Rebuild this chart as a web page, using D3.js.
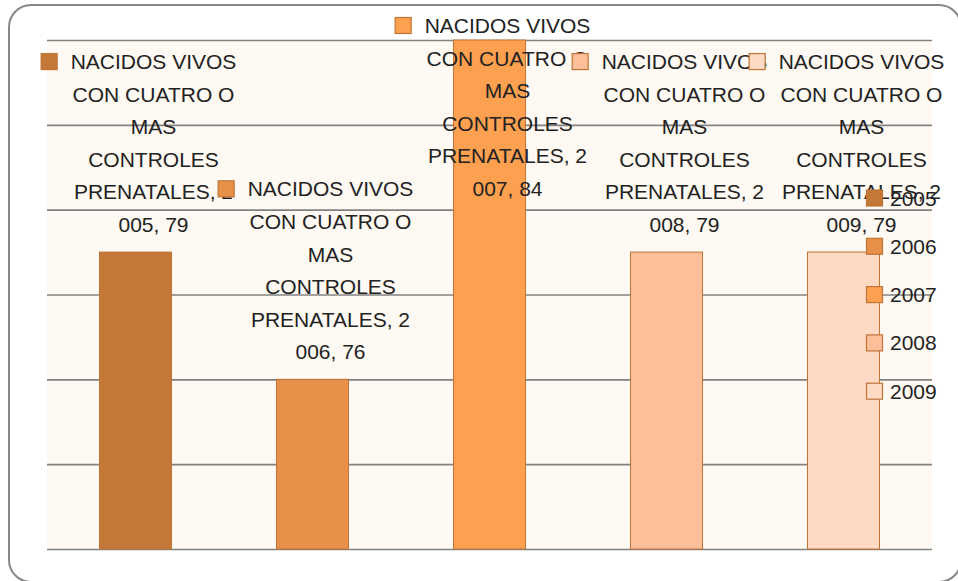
<!DOCTYPE html>
<html>
<head>
<meta charset="utf-8">
<script src="https://cdn.jsdelivr.net/npm/d3@7"></script>
<style>
  html, body { margin: 0; padding: 0; background: #fff; }
  svg text { font-family: "Liberation Sans", Arial, sans-serif; fill: #222; }
</style>
</head>
<body>
<svg id="chart" width="958" height="581"></svg>
<script>
// data
var indicator = 'NACIDOS VIVOS CON CUATRO O MAS CONTROLES PRENATALES';
var years = ['2005', '2006', '2007', '2008', '2009'];
var values = [79, 76, 84, 79, 79];
var yTicks = [72, 74, 76, 78, 80, 82, 84];
var colors = ['#c47838', '#e6904a', '#fda04f', '#fdbe9a', '#fedac4'];

var svg = d3.select('#chart');
var plot = { left: 47, right: 932, top: 40, bottom: 549 };

// outer frame
svg.append('rect')
	.attr('x', 9).attr('y', 5)
	.attr('width', 952).attr('height', 577)
	.attr('rx', 22)
	.attr('fill', '#fff')
	.attr('stroke', '#878787')
	.attr('stroke-width', 2);

svg.append('rect')
	.attr('x', plot.left).attr('y', plot.top)
	.attr('width', plot.right - plot.left).attr('height', plot.bottom - plot.top)
	.attr('fill', '#fef9f3');

var x = d3.scaleBand().domain(years).range([plot.left, plot.right]).paddingInner(0.593).paddingOuter(0.2965);
var y = d3.scaleLinear().domain([72, 84]).range([plot.bottom, plot.top]);

// gridlines (no tick labels in the original)
var grid = svg.append('g')
	.attr('transform', 'translate(' + plot.left + ',0)')
	.call(d3.axisLeft(y).tickValues(yTicks).tickSize(-(plot.right - plot.left)).tickFormat(''));
grid.select('.domain').remove();
grid.selectAll('line').attr('stroke', '#828282').attr('stroke-width', 1.6);

// bars
svg.append('g').selectAll('rect')
	.data(years)
	.join('rect')
	.attr('x', function (d) { return x(d); })
	.attr('y', function (d, i) { return y(values[i]); })
	.attr('width', x.bandwidth())
	.attr('height', function (d, i) { return y(72) - y(values[i]); })
	.attr('fill', function (d, i) { return colors[i]; })
	.attr('stroke', '#c07436')
	.attr('stroke-width', 1);

/*=================
=== data labels
=================*/
var fontSize = 21;
var lineH = 32.6;
var maxW = 169;

var measurer = svg.append('text').attr('font-size', fontSize).attr('visibility', 'hidden');
function textW(s) {
	measurer.text(s);
	return measurer.node().getComputedTextLength();
}

// Excel-like wrap: words, but numbers may be cut between digits
function wrap(str) {
	var words = str.split(' ');
	var lines = [];
	var cur = '';
	words.forEach(function (w) {
		var tryLine = cur ? cur + ' ' + w : w;
		if (textW(tryLine) <= maxW) { cur = tryLine; return; }
		if (/^\d/.test(w) && cur) {
			var k = 0;
			while (k < w.length && textW(cur + ' ' + w.slice(0, k + 1)) <= maxW) k++;
			if (k > 0) {
				lines.push(cur + ' ' + w.slice(0, k));
				cur = w.slice(k);
				return;
			}
		}
		if (cur) lines.push(cur);
		cur = w;
	});
	if (cur) lines.push(cur);
	return lines;
}

var labels = svg.append('g');
years.forEach(function (yr, i) {
	var lines = wrap(indicator + ', ' + yr + ', ' + values[i]);
	var cx = x(yr) + x.bandwidth() / 2 + 18;
	var lastBase = y(values[i]) - 20;
	var firstBase = lastBase - (lines.length - 1) * lineH;
	if (firstBase < 33) firstBase = 33;

	var g = labels.append('g');
	g.selectAll('text')
		.data(lines)
		.join('text')
		.attr('x', cx)
		.attr('y', function (d, j) { return firstBase + j * lineH; })
		.attr('text-anchor', 'middle')
		.attr('font-size', fontSize)
		.text(function (d) { return d; });

	var w0 = textW(lines[0]);
	g.append('rect')
		.attr('x', cx - w0 / 2 - 29.5)
		.attr('y', firstBase - 15.5)
		.attr('width', 16).attr('height', 16)
		.attr('fill', colors[i])
		.attr('stroke', '#c07436')
		.attr('stroke-width', 1.2);
});
measurer.remove();

/*=================
=== legend
=================*/
var legend = svg.append('g').selectAll('g')
	.data(years)
	.join('g')
	.attr('transform', function (d, i) { return 'translate(866,' + (198 + i * 48.3) + ')'; });

legend.append('rect')
	.attr('x', 0.5).attr('y', -8)
	.attr('width', 16).attr('height', 16)
	.attr('fill', function (d, i) { return colors[i]; })
	.attr('stroke', '#c07436')
	.attr('stroke-width', 1.2);

legend.append('text')
	.attr('x', 24)
	.attr('y', 7.5)
	.attr('font-size', fontSize)
	.text(function (d) { return d; });
</script>
</body>
</html>
